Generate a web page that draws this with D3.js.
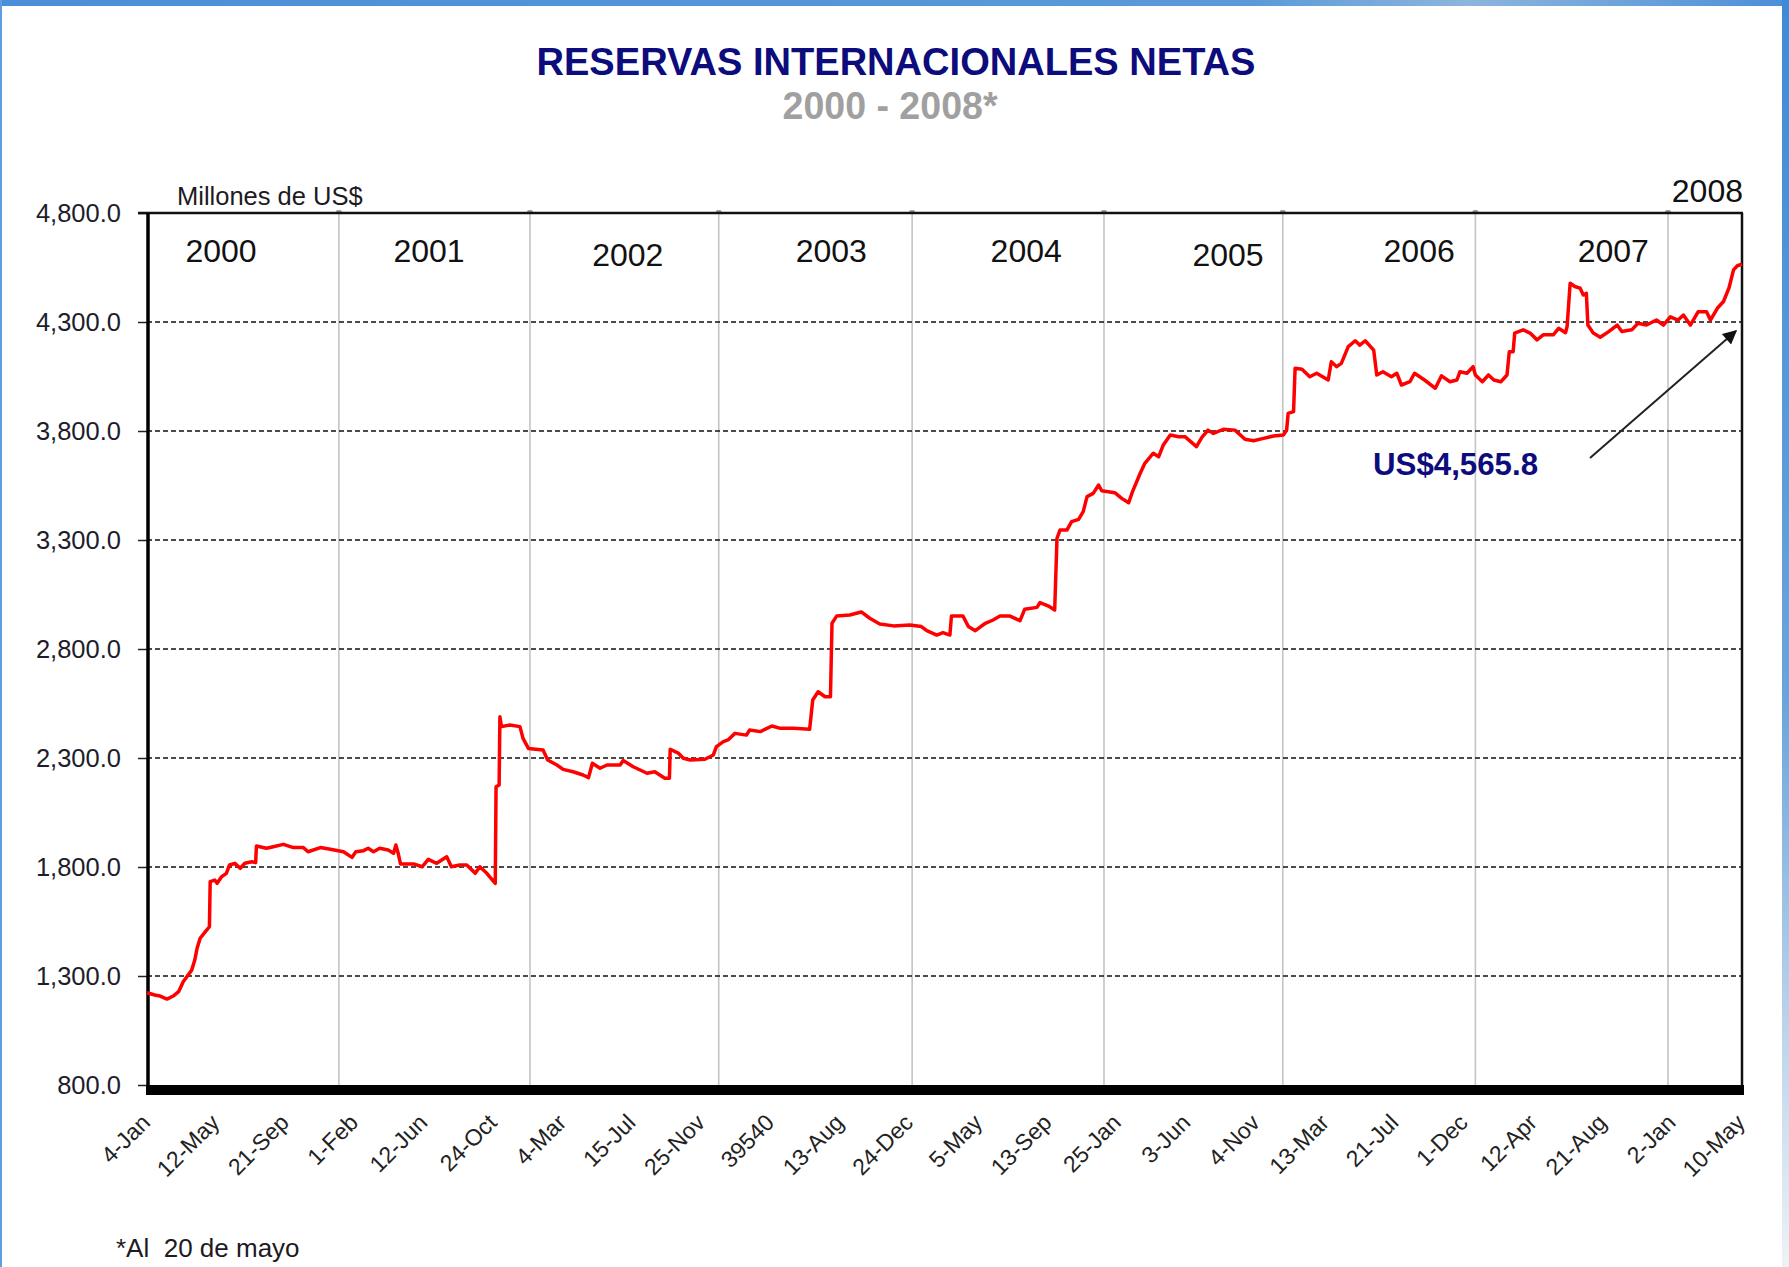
<!DOCTYPE html>
<html>
<head>
<meta charset="utf-8">
<script src="https://cdn.jsdelivr.net/npm/d3@7"></script>
<style>
  html, body { margin: 0; padding: 0; background: #fff; }
  svg { display: block; font-family: "Liberation Sans", Arial, sans-serif; }
</style>
</head>
<body>
<div id="vis"></div>
<script>

// ---- data ----
// x is the observation number on the category axis (one tick label every 90 obs)
var yearNames = ["2000", "2001", "2002", "2003", "2004", "2005", "2006", "2007", "2008"];
var yearStarts = [0, 249, 497, 742, 993, 1242, 1474, 1724, 1974];

var tickLabels = ["4-Jan", "12-May", "21-Sep", "1-Feb", "12-Jun", "24-Oct", "4-Mar", "15-Jul",
  "25-Nov", "39540", "13-Aug", "24-Dec", "5-May", "13-Sep", "25-Jan", "3-Jun", "4-Nov",
  "13-Mar", "21-Jul", "1-Dec", "12-Apr", "21-Aug", "2-Jan", "10-May"];

var yTicks = [800, 1300, 1800, 2300, 2800, 3300, 3800, 4300, 4800];

// reservas internacionales netas, millones de US$  [obs, value]
var rin2000 = [[0,1223],[10,1213],[17,1208],[26,1194],[34,1208],[41,1228],[47,1274],[58,1327],
  [62,1373],[65,1427],[69,1473],[75,1500],[81,1526],[82,1733],[88,1740],[91,1725],[97,1756],
  [103,1771],[107,1809],[114,1817],[121,1794],[127,1817],[136,1824],[141,1820],[142,1896],
  [155,1886],[164,1893],[177,1904],[190,1889],[203,1889],[209,1870],[225,1889],[238,1881]];
var rin2001 = [[255,1870],[266,1844],[271,1870],[281,1875],[287,1886],[294,1870],[302,1886],
  [313,1878],[320,1863],[323,1901],[326,1863],[329,1814],[346,1814],[357,1801],[365,1835],
  [376,1817],[389,1847],[395,1801],[406,1809],[415,1809],[426,1771],[432,1801],[441,1771],
  [452,1725],[453,2168],[457,2176],[458,2489],[460,2444],[471,2451],[484,2444],[488,2390],
  [495,2344]];
var rin2002 = [[514,2337],[520,2291],[532,2268],[540,2248],[553,2237],[566,2222],[573,2210],
  [578,2276],[588,2253],[597,2268],[614,2268],[618,2288],[631,2260],[649,2230],[659,2237],
  [672,2207],[678,2207],[679,2340],[690,2321],[696,2299],[705,2291],[724,2294],[735,2314],
  [739,2352]];
var rin2003 = [[748,2375],[754,2383],[763,2413],[778,2405],[782,2428],[796,2421],[811,2447],
  [822,2436],[839,2436],[860,2432],[864,2566],[871,2604],[880,2581],[887,2581],[889,2918],
  [895,2951],[912,2956],[927,2970],[938,2941],[951,2915],[969,2906],[990,2910]];
var rin2004 = [[1005,2903],[1012,2884],[1025,2864],[1033,2875],[1042,2864],[1044,2951],
  [1059,2951],[1066,2903],[1075,2884],[1088,2918],[1098,2933],[1107,2951],[1120,2951],
  [1133,2930],[1139,2982],[1155,2991],[1159,3013],[1170,2997],[1178,2979],[1181,3308],
  [1185,3346],[1194,3346],[1200,3384],[1209,3395],[1215,3430],[1220,3499],[1228,3514],
  [1235,3552],[1239,3526]];
var rin2005 = [[1256,3517],[1265,3491],[1274,3471],[1279,3522],[1289,3606],[1295,3652],
  [1306,3698],[1313,3682],[1319,3736],[1328,3782],[1339,3774],[1347,3774],[1362,3728],
  [1369,3771],[1377,3804],[1384,3789],[1397,3808],[1412,3804],[1425,3762],[1436,3755],
  [1449,3766],[1462,3777]];
var rin2006 = [[1475,3782],[1479,3804],[1481,3881],[1488,3889],[1490,4088],[1499,4083],
  [1509,4049],[1518,4065],[1533,4034],[1537,4118],[1544,4095],[1550,4110],[1559,4187],
  [1568,4214],[1574,4194],[1581,4214],[1592,4171],[1596,4057],[1604,4072],[1615,4049],
  [1622,4065],[1628,4011],[1639,4026],[1645,4065],[1658,4034],[1672,3996],[1680,4053],
  [1691,4026],[1700,4034],[1704,4072],[1713,4065],[1721,4095]];
var rin2007 = [[1724,4057],[1733,4026],[1741,4057],[1748,4034],[1757,4026],[1765,4057],
  [1768,4164],[1773,4164],[1775,4249],[1786,4264],[1795,4249],[1804,4218],[1812,4241],
  [1825,4241],[1832,4271],[1841,4251],[1843,4279],[1847,4478],[1853,4463],[1860,4455],
  [1864,4424],[1868,4432],[1870,4286],[1877,4249],[1886,4230],[1897,4256],[1908,4286],
  [1914,4256],[1927,4264],[1935,4294],[1946,4286],[1959,4309],[1968,4286]];
var rin2008 = [[1977,4324],[1987,4309],[1994,4332],[2003,4286],[2013,4347],[2024,4347],
  [2029,4309],[2038,4363],[2046,4394],[2053,4455],[2059,4539],[2064,4558],[2070,4565.8]];

var lastValue = 4565.8;

// ---- layout ----
var W = 1789, H = 1267;
var plot = { left: 147, right: 1742, top: 213, bottom: 1085 };
// where each year caption sits (obs number of its centre)
var yearLabelObs = [96, 366, 624, 888, 1141, 1403, 1651, 1903];

var series = [].concat(rin2000, rin2001, rin2002, rin2003, rin2004, rin2005, rin2006, rin2007, rin2008);

var svg = d3.select('#vis').append('svg')
  .attr('width', W)
  .attr('height', H);

var defs = svg.append('defs');

var gTop = defs.append('linearGradient').attr('id', 'topBand');
gTop.append('stop').attr('offset', '0%').attr('stop-color', '#4b8fd8');
gTop.append('stop').attr('offset', '70%').attr('stop-color', '#5a9ad8');
gTop.append('stop').attr('offset', '82%').attr('stop-color', '#8db5dd');
gTop.append('stop').attr('offset', '100%').attr('stop-color', '#4b8fd8');

var gSide = defs.append('linearGradient').attr('id', 'sideBand')
  .attr('x1', 0).attr('y1', 0).attr('x2', 0).attr('y2', 1);
gSide.append('stop').attr('offset', '0%').attr('stop-color', '#3f8ad8');
gSide.append('stop').attr('offset', '55%').attr('stop-color', '#6aa4dc');
gSide.append('stop').attr('offset', '80%').attr('stop-color', '#b9d2ea');
gSide.append('stop').attr('offset', '100%').attr('stop-color', '#eef2f5');

defs.append('marker')
  .attr('id', 'arrowHead')
  .attr('viewBox', '0 0 10 10')
  .attr('refX', 9).attr('refY', 5)
  .attr('markerWidth', 9).attr('markerHeight', 7)
  .attr('markerUnits', 'strokeWidth')
  .attr('orient', 'auto')
  .append('path')
  .attr('d', 'M0,0 L10,5 L0,10 z')
  .attr('fill', '#111');

// frame
svg.append('rect').attr('width', W).attr('height', H).attr('fill', '#fff');
svg.append('rect').attr('x', 0).attr('y', 0).attr('width', W).attr('height', 6).attr('fill', 'url(#topBand)');
svg.append('rect').attr('x', 0).attr('y', 0).attr('width', 2).attr('height', H).attr('fill', '#5f9ede');
svg.append('rect').attr('x', 1782).attr('y', 0).attr('width', 7).attr('height', H).attr('fill', 'url(#sideBand)');

// scales
var x = d3.scaleLinear().domain([0, 2070]).range([plot.left, plot.right]);
var y = d3.scaleLinear().domain([800, 4800]).range([plot.bottom, plot.top]);

// title
svg.append('text')
  .attr('x', 896).attr('y', 75)
  .attr('text-anchor', 'middle')
  .attr('font-size', 39).attr('font-weight', 'bold')
  .attr('fill', '#0c0c7c')
  .attr('textLength', 719).attr('lengthAdjust', 'spacingAndGlyphs')
  .text('RESERVAS INTERNACIONALES NETAS');

svg.append('text')
  .attr('x', 890).attr('y', 119)
  .attr('text-anchor', 'middle')
  .attr('font-size', 39).attr('font-weight', 'bold')
  .attr('fill', '#a0a0a0')
  .attr('textLength', 215).attr('lengthAdjust', 'spacingAndGlyphs')
  .text('2000 - 2008*');

// year separators
var g = svg.append('g');

g.selectAll('.year-line')
  .data(yearStarts.slice(1))
  .enter().append('line')
  .attr('class', 'year-line')
  .attr('x1', function (d) { return x(d); })
  .attr('x2', function (d) { return x(d); })
  .attr('y1', plot.top)
  .attr('y2', plot.bottom)
  .attr('stroke', '#c4c4c4')
  .attr('stroke-width', 1.6);

g.selectAll('.year-knob')
  .data(yearStarts.slice(1))
  .enter().append('rect')
  .attr('class', 'year-knob')
  .attr('x', function (d) { return x(d) - 3; })
  .attr('y', plot.top - 3)
  .attr('width', 6).attr('height', 4)
  .attr('rx', 2)
  .attr('fill', '#9a9a9a');

// dashed grid
g.selectAll('.grid')
  .data(yTicks.filter(function (d) { return d > 800 && d < 4800; }))
  .enter().append('line')
  .attr('class', 'grid')
  .attr('x1', plot.left).attr('x2', plot.right)
  .attr('y1', function (d) { return y(d); })
  .attr('y2', function (d) { return y(d); })
  .attr('stroke', '#111')
  .attr('stroke-width', 1.4)
  .attr('stroke-dasharray', '5,3');

// y axis
var yAxis = svg.append('g')
  .attr('transform', 'translate(' + plot.left + ',0)')
  .call(d3.axisLeft(y).tickValues(yTicks).tickSize(9).tickPadding(17).tickFormat(d3.format(',.1f')));
yAxis.select('.domain').remove();
yAxis.selectAll('line').attr('stroke', '#222').attr('stroke-width', 1.5);
yAxis.selectAll('text')
  .attr('font-size', 25.5)
  .attr('font-family', '"Liberation Sans", Arial, sans-serif')
  .attr('fill', '#1d1d2b');

// x axis labels
var xAxis = svg.append('g')
  .attr('transform', 'translate(0,' + (plot.bottom + 10) + ')')
  .call(d3.axisBottom(x)
    .tickValues(tickLabels.map(function (d, i) { return i * 90; }))
    .tickSize(0)
    .tickFormat(function (d, i) { return tickLabels[i]; }));
xAxis.select('.domain').remove();
xAxis.selectAll('text')
  .attr('x', 0).attr('y', 0).attr('dy', 0)
  .attr('text-anchor', 'end')
  .attr('transform', 'translate(4,29) rotate(-45)')
  .attr('font-size', 23)
  .attr('font-family', '"Liberation Sans", Arial, sans-serif')
  .attr('fill', '#222');

// frame of the plot
svg.append('line')
  .attr('x1', plot.left - 9).attr('x2', plot.right + 1)
  .attr('y1', plot.top).attr('y2', plot.top)
  .attr('stroke', '#111').attr('stroke-width', 2.5);
svg.append('line')
  .attr('x1', plot.right).attr('x2', plot.right)
  .attr('y1', plot.top).attr('y2', plot.bottom)
  .attr('stroke', '#111').attr('stroke-width', 2.5);
svg.append('line')
  .attr('x1', plot.left + 1).attr('x2', plot.left + 1)
  .attr('y1', plot.top).attr('y2', plot.bottom)
  .attr('stroke', '#000').attr('stroke-width', 3.5);
svg.append('rect')
  .attr('x', plot.left - 1).attr('y', plot.bottom)
  .attr('width', plot.right - plot.left + 3).attr('height', 10)
  .attr('fill', '#000');

// the series
var line = d3.line()
  .x(function (d) { return x(d[0]); })
  .y(function (d) { return y(d[1]); });

svg.append('path')
  .datum(series)
  .attr('d', line)
  .attr('fill', 'none')
  .attr('stroke', '#ff0000')
  .attr('stroke-width', 3.5)
  .attr('stroke-linejoin', 'round');

// year captions
svg.selectAll('.year-label')
  .data(yearNames.slice(0, 8))
  .enter().append('text')
  .attr('class', 'year-label')
  .attr('x', function (d, i) { return x(yearLabelObs[i]); })
  .attr('y', function (d) { return (d === '2002' || d === '2005') ? 266 : 262; })
  .attr('text-anchor', 'middle')
  .attr('font-size', 32)
  .attr('fill', '#111')
  .text(function (d) { return d; });

svg.append('text')
  .attr('x', plot.right + 1).attr('y', 202)
  .attr('text-anchor', 'end')
  .attr('font-size', 32)
  .attr('fill', '#111')
  .text(yearNames[8]);

svg.append('text')
  .attr('x', 177).attr('y', 205)
  .attr('font-size', 25.5)
  .attr('fill', '#1d1a22')
  .text('Millones de US$');

// annotation for the last value
svg.append('text')
  .attr('x', 1373).attr('y', 475)
  .attr('font-size', 31).attr('font-weight', 'bold')
  .attr('fill', '#0c0c7c')
  .attr('textLength', 165).attr('lengthAdjust', 'spacingAndGlyphs')
  .text('US$' + d3.format(',.1f')(lastValue));

svg.append('line')
  .attr('x1', 1590).attr('y1', 458)
  .attr('x2', 1736).attr('y2', 331)
  .attr('stroke', '#222')
  .attr('stroke-width', 2)
  .attr('marker-end', 'url(#arrowHead)');

// footnote
svg.append('text')
  .attr('x', 116).attr('y', 1257)
  .attr('font-size', 26)
  .attr('fill', '#1d1a22')
  .style('white-space', 'pre')
  .text('*Al  20 de mayo');

</script>
</body>
</html>
